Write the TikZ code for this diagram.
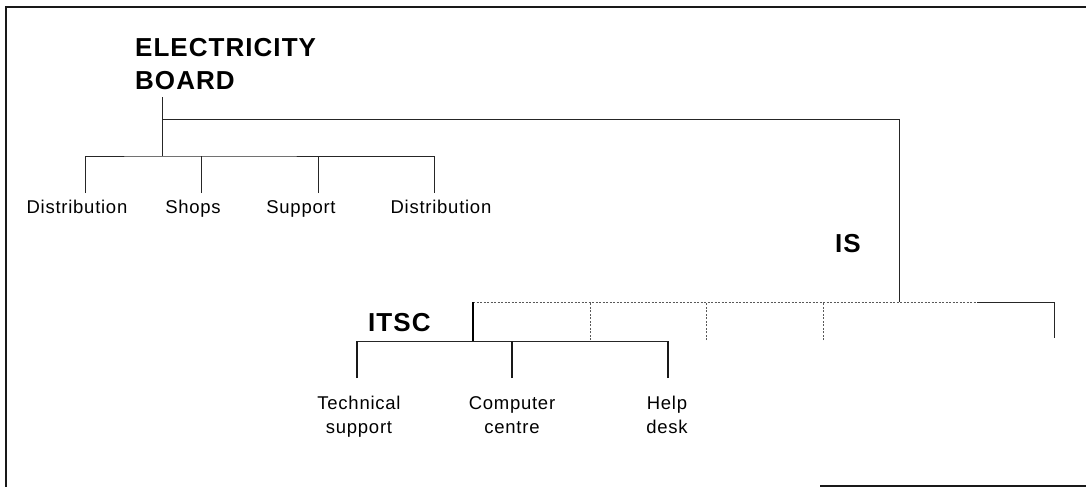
\documentclass[tikz,border=0pt]{standalone}
\usepackage{fontspec}
\setmainfont{Liberation Sans}
\newfontfamily\headfont[LetterSpace=4]{Liberation Sans}
\newfontfamily\labfont[LetterSpace=4]{Liberation Sans}
\begin{document}
\begin{tikzpicture}[x=1pt,y=-1pt,
  unit/.style={font=\headfont\bfseries\fontsize{26}{33}\selectfont, inner sep=0pt, align=left},
  dept/.style={font=\labfont\fontsize{18.5}{24}\selectfont, inner sep=0pt, align=center},
  link/.style={draw=black!85, line width=0.9pt},
  heavy/.style={draw=black, line width=1.5pt},
  twig/.style={draw=black!90, line width=1.2pt},
  vacant/.style={draw=black!65, line width=0.8pt, dash pattern=on 2pt off 1.5pt},
  frame/.style={draw=black!90, line width=2pt}]
\useasboundingbox (0,0) rectangle (1086,487);

% page border
\draw[frame] (1086,7) -- (6,7) -- (6,487);
\draw[frame] (820,485.5) -- (1086,485.5);

% unit headings
\node[unit, anchor=north west] (eb) at (135,38) {ELECTRICITY\\BOARD};
\node[unit, anchor=base west] (is) at (835,252) {IS};
\node[unit, anchor=base west] (itsc) at (368,331) {ITSC};

% departments of the board
\node[dept, anchor=base] (d1) at (77,213) {Distribution};
\node[dept, anchor=base] (shops) at (193,213) {Shops};
\node[dept, anchor=base] (support) at (301,213) {Support};
\node[dept, anchor=base] (d2) at (441,213) {Distribution};

% sections of ITSC
\node[dept, anchor=north] (tech) at (359,396) {Technical\\support};
\node[dept, anchor=north] (comp) at (512,396) {Computer\\centre};
\node[dept, anchor=north] (help) at (667,396) {Help\\desk};

% junction points
\coordinate (ebtop) at (162,97);
\coordinate (ebbar) at (162,156);
\coordinate (isbranch) at (162,119);
\coordinate (isbar) at (899,302);
\coordinate (d1tip) at (85,193);
\coordinate (shopstip) at (201,193);
\coordinate (supporttip) at (318,193);
\coordinate (d2tip) at (434,193);
\coordinate (itsctop) at (473,302);
\coordinate (itscbar) at (473,341);
\coordinate (slot1) at (590,340);
\coordinate (slot2) at (706,340);
\coordinate (slot3) at (823,340);
\coordinate (slot4) at (1054,338);
\coordinate (solidfrom) at (977,302);
\coordinate (techtip) at (357,378);
\coordinate (comptip) at (512,378);
\coordinate (helptip) at (668,378);

% board tree
\draw[link] (ebtop) -- (ebbar);
\draw[link] (d1tip) |- (ebbar) -| (d2tip);
\draw[link] (shopstip) -- (shopstip |- ebbar);
\draw[link] (supporttip) -- (supporttip |- ebbar);
\draw[link] (isbranch) -| (isbar);

% IS tree
\draw[vacant] (itsctop) -- (solidfrom);
\draw[link] (solidfrom) -| (slot4);
\draw[vacant] (slot1) -- (slot1 |- itsctop);
\draw[vacant] (slot2) -- (slot2 |- itsctop);
\draw[vacant] (slot3) -- (slot3 |- itsctop);
\draw[heavy] (itsctop) -- (itscbar);

% ITSC tree
\draw[link] (techtip |- itscbar) -- (helptip |- itscbar);
\draw[twig] (techtip) -- (techtip |- itscbar);
\draw[twig] (comptip) -- (comptip |- itscbar);
\draw[twig] (helptip) -- (helptip |- itscbar);
\end{tikzpicture}
\end{document}
